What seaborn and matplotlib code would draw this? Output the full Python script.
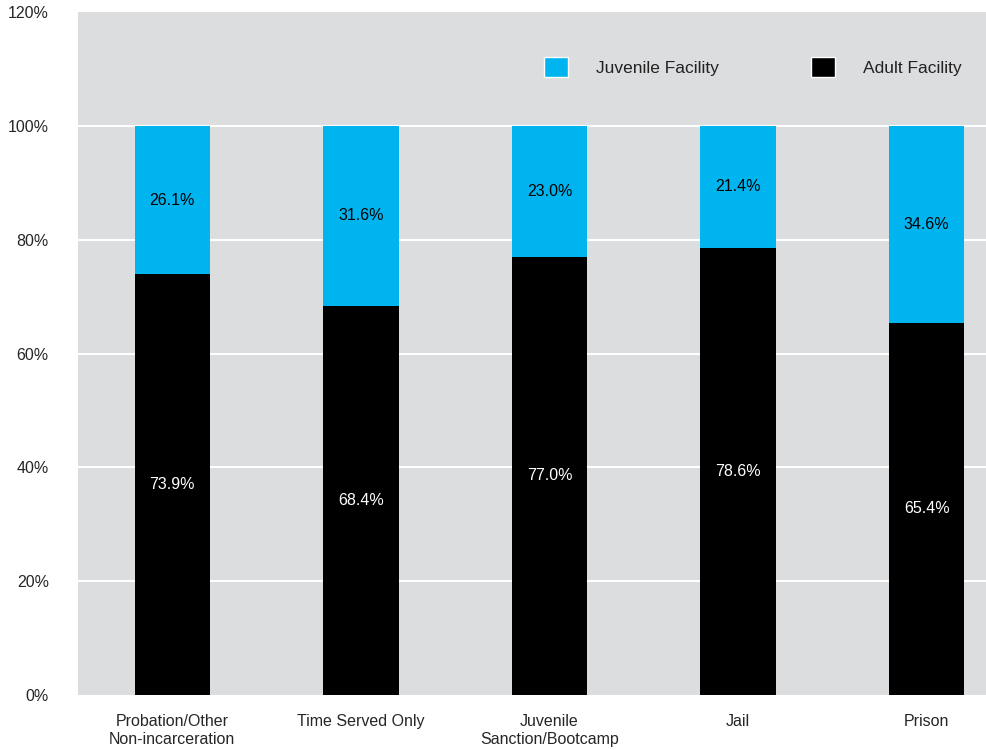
import matplotlib
matplotlib.use("Agg")
import matplotlib.pyplot as plt
import seaborn as sns
import pandas as pd
from matplotlib.patches import Patch

categories = ["Probation/Other\nNon-incarceration", "Time Served Only",
              "Juvenile\nSanction/Bootcamp", "Jail", "Prison"]
adult = [73.9, 68.4, 77.0, 78.6, 65.4]
juvenile = [26.1, 31.6, 23.0, 21.4, 34.6]
yticks = [0, 20, 40, 60, 80, 100, 120]

CYAN = "#00B5EF"
BG = "#DCDDDF"

sns.set_theme(style="white")
plt.rcParams['font.family'] = ['Liberation Sans', 'DejaVu Sans']

df = pd.DataFrame({"cat": categories, "adult": adult, "juvenile": juvenile})
df["total"] = df["adult"] + df["juvenile"]

fig = plt.figure(figsize=(9.87, 7.5), dpi=100)
ax = fig.add_axes([78/987, 55/750, 909/987, 683/750])
ax.set_facecolor(BG)
ax.set_axisbelow(True)

sns.barplot(data=df, x="cat", y="total", color=CYAN, width=0.40, ax=ax,
            saturation=1, zorder=3, linewidth=0, edgecolor="none")
sns.barplot(data=df, x="cat", y="adult", color="black", width=0.40, ax=ax,
            saturation=1, zorder=3, linewidth=0, edgecolor="none")

for i, (a, j) in enumerate(zip(adult, juvenile)):
    ax.text(i, a / 2, f"{a:.1f}%", ha="center", va="center", color="white",
            fontsize=11.5, zorder=5)
    ax.text(i, a + j / 2, f"{j:.1f}%", ha="center", va="center", color="black",
            fontsize=11.5, zorder=5)

ax.set_xlim(-0.5, 4.32)
ax.set_ylim(0, 120)
ax.set_yticks(yticks)
ax.set_yticklabels([f"{t}%" for t in yticks], fontsize=11.5)
ax.tick_params(axis="y", length=0, pad=21)
ax.tick_params(axis="x", length=0, pad=14, labelsize=11.5)
for lab in ax.get_xticklabels():
    lab.set_linespacing(1.25)
ax.set_xlabel("")
ax.set_ylabel("")
for t in yticks[1:-1]:
    ax.axhline(t, color="white", lw=1.5, zorder=1)
for s in ax.spines.values():
    s.set_visible(False)

handles = [Patch(facecolor=CYAN, edgecolor="white", lw=1.0, label="Juvenile Facility"),
           Patch(facecolor="black", edgecolor="white", lw=1.0, label="Adult Facility")]
leg = ax.legend(handles=handles, ncol=2, frameon=False, loc="center",
                bbox_to_anchor=(0.742, 0.919), handlelength=1.4, handleheight=1.4,
                handletextpad=1.6, columnspacing=5.3, fontsize=12.5)
for t in leg.get_texts():
    t.set_color("#222222")

fig.savefig("out.png", dpi=100)
